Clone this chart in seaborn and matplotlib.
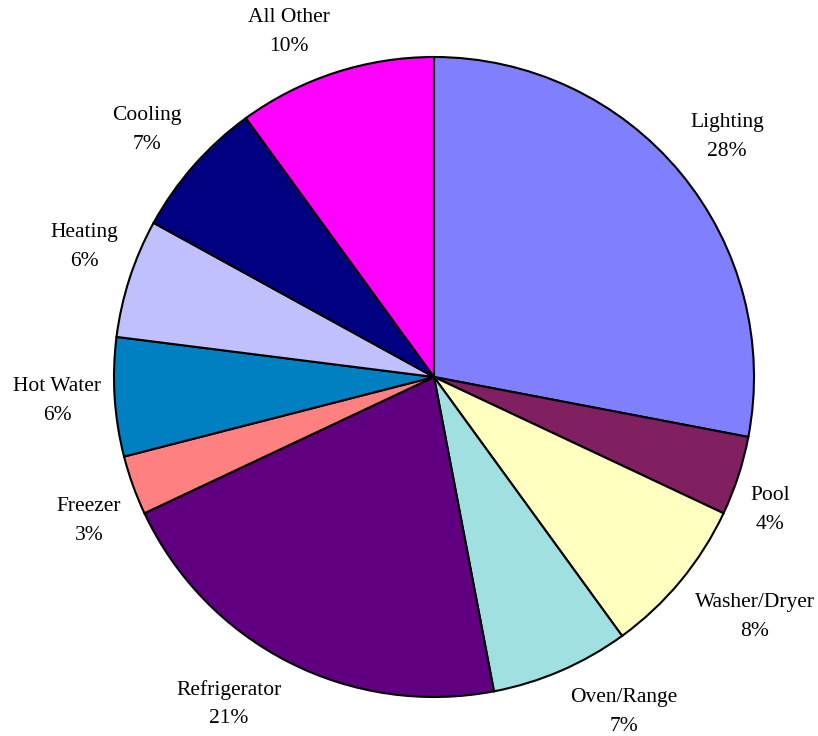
import matplotlib
matplotlib.use("Agg")
import matplotlib.pyplot as plt
import seaborn as sns

# Household electricity use by end use (percent of total)
categories = ["Lighting", "Pool", "Washer/Dryer", "Oven/Range", "Refrigerator",
              "Freezer", "Hot Water", "Heating", "Cooling", "All Other"]
shares = [28, 4, 8, 7, 21, 3, 6, 6, 7, 10]
colors = ["#8080FF", "#802060", "#FFFFC0", "#A0E0E0", "#600080",
          "#FF8080", "#0080C0", "#C0C0FF", "#000080", "#FF00FF"]

sns.set_theme(style="white")
plt.rcParams["font.family"] = ["Liberation Serif", "DejaVu Serif"]

W, H = 818, 736
CX, CY, R = 434, 377, 320  # pie centre and radius in pixels

fig = plt.figure(figsize=(W / 100, H / 100), dpi=100)
ax = fig.add_axes([0, 0, 1, 1])

labels = [f"{c}\n{v}%" for c, v in zip(categories, shares)]
wedges, texts = ax.pie(
    shares,
    labels=labels,
    colors=colors,
    startangle=90,
    counterclock=False,
    radius=1.0,
    labeldistance=1.18,
    wedgeprops=dict(edgecolor="black", linewidth=1.5),
    textprops=dict(fontsize=15.5, color="black", linespacing=1.65),
)

# label block centres (pixels), set outside each wedge
label_px = [(727, 137), (770, 510), (755, 617), (624, 712), (229, 704),
            (89, 521), (57, 401), (84, 247), (147, 130), (289, 32)]
for t, (px, py) in zip(texts, label_px):
    t.set_position(((px - CX) / R, (CY - py) / R))
    t.set_horizontalalignment("center")
    t.set_verticalalignment("center")
    t.set_multialignment("center")

ax.set_xlim(-CX / R, (W - CX) / R)
ax.set_ylim(-(H - CY) / R, CY / R)
ax.set_aspect("auto")
ax.axis("off")

fig.savefig("out.png", dpi=100, facecolor="white")
